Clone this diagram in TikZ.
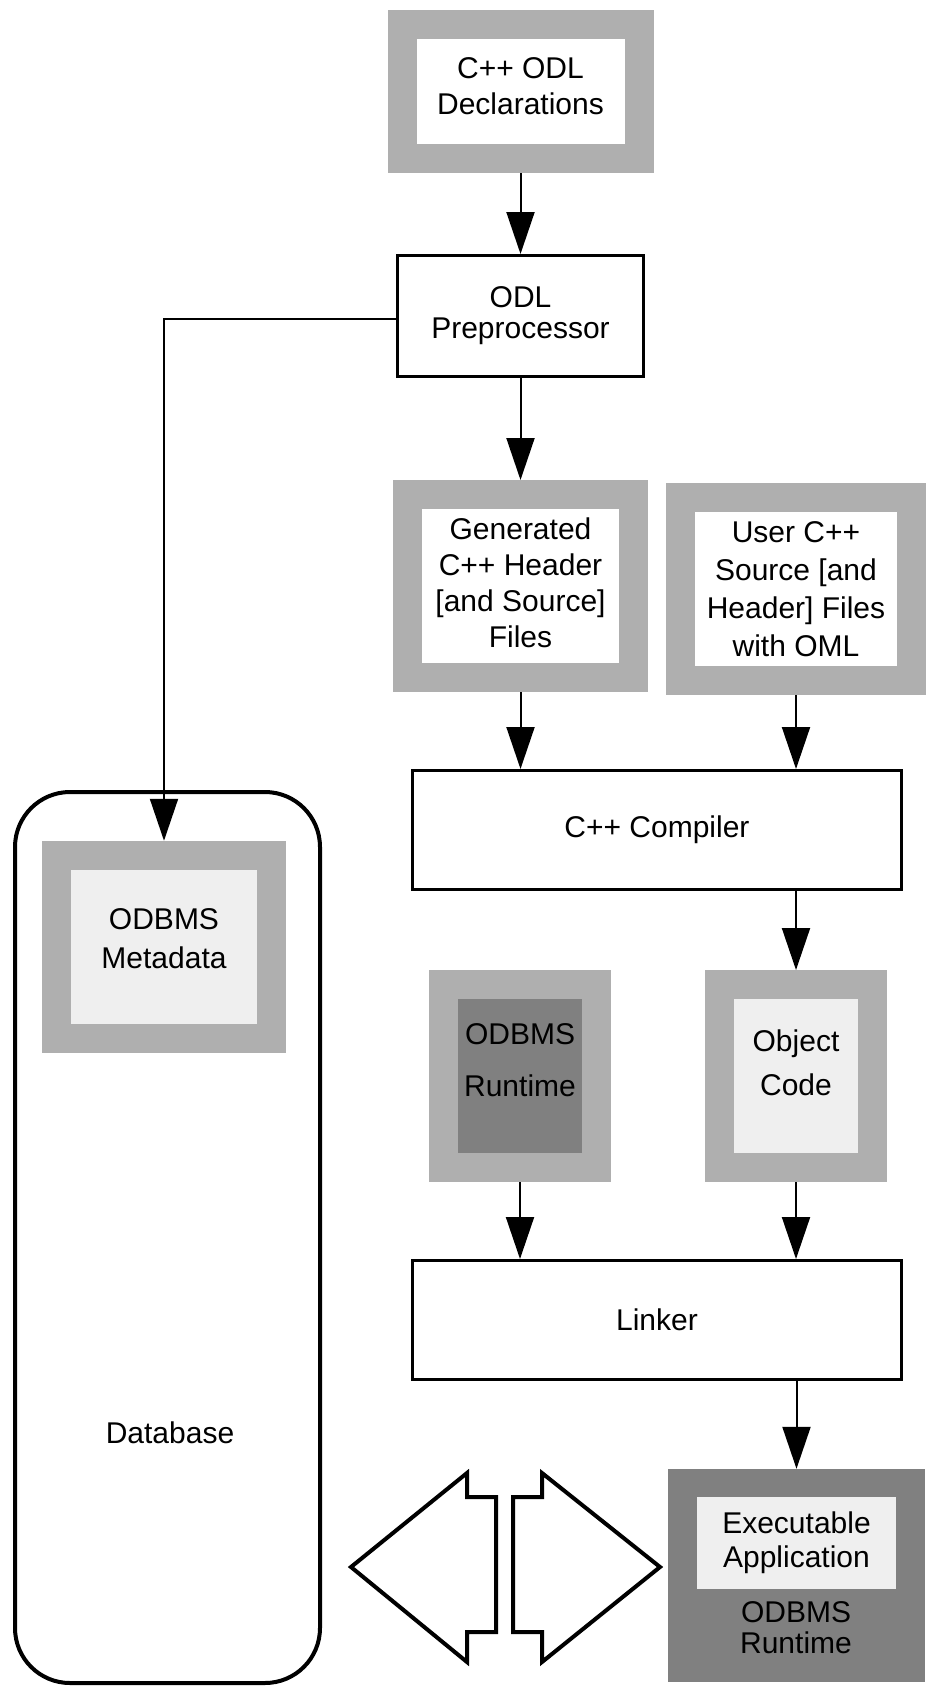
\documentclass[tikz,border=0pt]{standalone}
\usepackage{fontspec}
\setmainfont{Liberation Sans}
\usetikzlibrary{arrows.meta}
\definecolor{framegray}{HTML}{AFAFAF}
\definecolor{lightfill}{HTML}{EFEFEF}
\definecolor{darkfill}{HTML}{808080}
\tikzset{
	every node/.style = {
		align=center,
		inner sep=0pt,
		font=\fontsize{30}{36}\selectfont
	},
	procbox/.style = {
		shape=rectangle,
		draw,
		line width=3pt,
		minimum width=489pt,
		minimum height=119pt
	},
	framed/.style = {
		shape=rectangle,
		draw=framegray,
		line width=29pt,
		fill=#1
	},
	conn/.style = {
		line width=2pt,
		-{Triangle[length=42pt,width=28pt]}
	},
	bigarrow/.style = {
		line width=4pt,
		line join=miter
	}
}

\begin{document}
\begin{tikzpicture}[x=1pt,y=-1pt]
	\useasboundingbox (0,0) rectangle (932,1691);
	% database with its metadata
	\node[draw, line width=4pt, rounded corners=55pt, minimum width=305pt, minimum height=891pt] (db) at (167.5,1237.5) {};
	\node (dbtext) at (170,1433) {Database};
	\node[framed=lightfill, minimum width=215pt, minimum height=183.5pt] (meta) at (164,947) {};
	\node[font=\fontsize{30}{39}\selectfont] (metatext) at ([yshift=8pt]meta.center) {ODBMS\\Metadata};
	% build chain
	\node[framed=white, minimum width=237pt, minimum height=134.5pt] (decl) at (520.5,91.5) {};
	\node (decltext) at ([yshift=5pt]decl.center) {C++ ODL\\Declarations};
	\node[procbox, minimum width=246pt, minimum height=121pt, font=\fontsize{30}{31}\selectfont] (prep) at (520.5,316) {ODL\\Preprocessor};
	\node[framed=white, minimum width=226.5pt, minimum height=183pt] (gen) at (520.5,586) {};
	\node (gentext) at ([yshift=3pt]gen.center) {Generated\\C++ Header\\{}[and Source]\\Files};
	\node[framed=white, minimum width=231.5pt, minimum height=183pt, font=\fontsize{30}{38}\selectfont] (user) at (796,589) {User C++\\Source [and\\Header] Files\\with OML};
	\node[procbox] (comp) at (657,830) {C++ Compiler};
	\node[framed=darkfill, minimum width=153pt, minimum height=183pt] (rt) at (520,1076) {};
	\node[font=\fontsize{30}{52}\selectfont] (rttext) at ([yshift=16pt]rt.center) {ODBMS\\Runtime};
	\node[framed=lightfill, minimum width=153pt, minimum height=183pt] (obj) at (796,1076) {};
	\node[font=\fontsize{30}{44}\selectfont] (objtext) at ([yshift=13pt]obj.center) {Object\\Code};
	\node[procbox] (link) at (657,1320) {Linker};
	% executable
	\node[fill=darkfill, minimum width=257pt, minimum height=213pt] (exe) at (796.5,1575.5) {};
	\node[fill=lightfill, minimum width=199pt, minimum height=92pt, font=\fontsize{30}{34}\selectfont] (exeapp) at (796.5,1543) {Executable\\Application};
	\node[font=\fontsize{30}{31}\selectfont] (exert) at (796,1628) {ODBMS\\Runtime};

	\draw[conn] (decl) -- (prep);
	\draw[conn] ([yshift=-3pt]prep.west) -| (meta.north);
	\draw[conn] (prep) -- (gen);
	\draw[conn] (gen.south) -- (gen.south |- comp.north);
	\draw[conn] (user.south) -- (user.south |- comp.north);
	\draw[conn] (comp.south -| obj.north) -- (obj.north);
	\draw[conn] (rt.south) -- (rt.south |- link.north);
	\draw[conn] (obj.south) -- (obj.south |- link.north);
	\draw[conn] (link.south -| exe.north) -- (exe.north);

	% exchange between database and application
	\draw[bigarrow] (351,1567) -- (467,1473) -- (467,1497) -- (496,1497) -- (496,1632) -- (467,1632) -- (467,1662) -- cycle;
	\draw[bigarrow] (660,1567) -- (542,1473) -- (542,1497) -- (513,1497) -- (513,1632) -- (542,1632) -- (542,1662) -- cycle;
\end{tikzpicture}
\end{document}
